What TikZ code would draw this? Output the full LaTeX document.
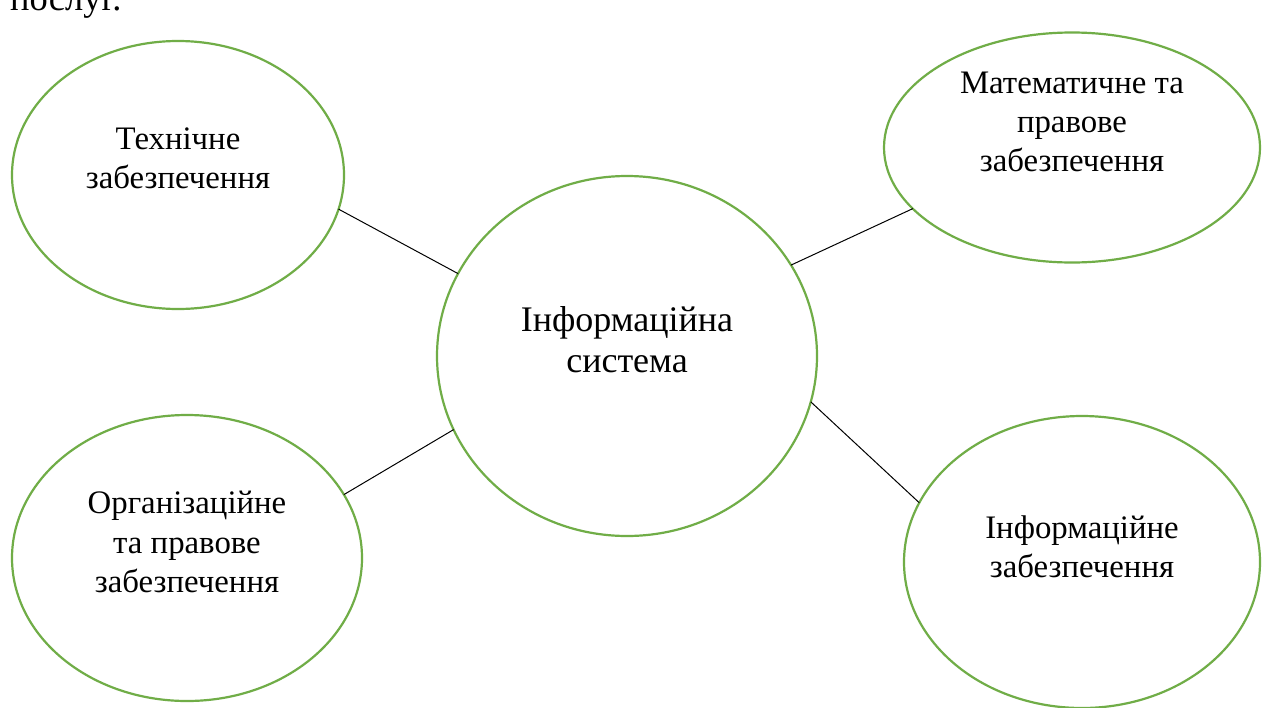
\documentclass[tikz,border=0pt]{standalone}
\usepackage{fontspec}
\setmainfont{Liberation Serif}
\usetikzlibrary{shapes.geometric}
\definecolor{eg}{HTML}{70AD47}
\tikzset{
  bubble/.style={ellipse, draw=eg, line width=2.2pt, inner sep=0pt, outer sep=0pt, fill=white},
  sidetxt/.style={anchor=base, inner sep=0pt, font=\fontsize{32.8}{38}\selectfont},
  maintxt/.style={anchor=base, inner sep=0pt, font=\fontsize{36}{42}\selectfont},
  link/.style={draw=black, line width=1pt}
}
\begin{document}
\begin{tikzpicture}[x=1pt,y=-1pt]
\useasboundingbox[fill=white] (0,0) rectangle (1268,707);
\node[anchor=base west, inner sep=0pt, font=\fontsize{36.5}{40}\selectfont] (top) at (10,10) {послуг.};

\node[bubble, minimum width=380pt, minimum height=360pt] (c) at (627,356) {};
\node[bubble, minimum width=332pt, minimum height=268pt] (tl) at (178,175) {};
\node[bubble, minimum width=376pt, minimum height=230pt] (tr) at (1072,147.5) {};
\node[bubble, minimum width=350pt, minimum height=286pt] (bl) at (187,558) {};
\node[bubble, minimum width=356pt, minimum height=292pt] (br) at (1082,562) {};

\node[maintxt] (c1) at (627,331) {Інформаційна};
\node[maintxt] (c2) at (627,372) {система};

\node[sidetxt] (tl1) at (178,149) {Технічне};
\node[sidetxt] (tl2) at (178,188) {забезпечення};

\node[sidetxt] (tr1) at (1072,93) {Математичне та};
\node[sidetxt] (tr2) at (1072,132) {правове};
\node[sidetxt] (tr3) at (1072,171) {забезпечення};

\node[sidetxt] (bl1) at (187,513) {Організаційне};
\node[sidetxt] (bl2) at (187,553) {та правове};
\node[sidetxt] (bl3) at (187,592) {забезпечення};

\node[sidetxt] (br1) at (1082,538) {Інформаційне};
\node[sidetxt] (br2) at (1082,577) {забезпечення};

\draw[link] (tl.-12.3) -- (c.154.7);
\draw[link] (c.29.2) -- (tr.-159.5);
\draw[link] (bl.22.7) -- (c.203.2);
\draw[link] (c.-14.1) -- (br.160.4);
\end{tikzpicture}
\end{document}
